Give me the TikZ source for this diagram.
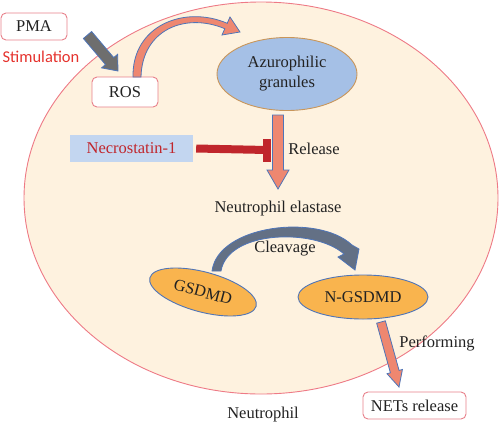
\documentclass[tikz,border=0pt]{standalone}
\usepackage{fontspec}
\setmainfont{Liberation Serif}
\newfontfamily\calfont{Carlito}
\usetikzlibrary{shapes.geometric,calc}
\definecolor{cellfill}{HTML}{FEF2DF}
\definecolor{cellline}{HTML}{EE7A86}
\definecolor{boxline}{HTML}{E8808A}
\definecolor{grayarr}{HTML}{6E6E6E}
\definecolor{blueline}{HTML}{4F75B8}
\definecolor{salmon}{HTML}{EE8770}
\definecolor{granfill}{HTML}{A5C0E6}
\definecolor{granline}{HTML}{C9965A}
\definecolor{orangefill}{HTML}{F9B44E}
\definecolor{cleavfill}{HTML}{637085}
\definecolor{necrofill}{HTML}{C3D6F0}
\definecolor{inhred}{HTML}{C0262C}
\definecolor{stimred}{HTML}{E5322D}
\definecolor{txt}{HTML}{222222}
\newcommand\blockarr[6]{%
  \coordinate (ba-h) at ($(#2)!#5!(#1)$);
  \filldraw[#6] ($(#1)!#3!90:(#2)$) -- ($(ba-h)!#3!-90:(#1)$) -- ($(ba-h)!#4!-90:(#1)$) -- (#2) -- ($(ba-h)!#4!90:(#1)$) -- ($(ba-h)!#3!90:(#1)$) -- ($(#1)!#3!-90:(#2)$) -- cycle;}
\begin{document}
\begin{tikzpicture}[x=1pt,y=-1pt,
  every node/.style={font=\fontsize{16.5}{19}\selectfont, text=txt},
  rbox/.style={draw=boxline, line width=0.9pt, fill=white, rounded corners=5pt, inner sep=0pt},
  orel/.style={ellipse, draw=blueline, line width=0.9pt, fill=orangefill, inner sep=0pt},
  salarr/.style={fill=salmon, draw=blueline, line width=0.8pt, line join=miter},
  inhline/.style={draw=inhred, line width=8pt}]
\useasboundingbox (0,0) rectangle (500,426);
% cell
\node[ellipse, draw=cellline, line width=0.9pt, fill=cellfill, minimum width=474pt, minimum height=392pt, inner sep=0pt] (cell) at (261,198) {};
% boxes
\node[rbox, minimum width=66pt, minimum height=27pt] (pma) at (34,26.5) {PMA};
\node[font=\calfont\fontsize{16.5}{19}\selectfont, text=stimred] (stim) at (41,57) {Stimulation};
\node[rbox, minimum width=66pt, minimum height=30pt] (ros) at (125,92) {ROS};
\node[ellipse, draw=granline, line width=0.9pt, fill=granfill, minimum width=140pt, minimum height=73pt, inner sep=0pt, align=center, font=\fontsize{16.5}{20}\selectfont] (gran) at (287,74) {Azurophilic\\granules};
\node[fill=necrofill, minimum width=123pt, minimum height=27pt, inner sep=0pt, text=inhred] (necro) at (131.5,148.5) {Necrostatin-1};
\node (release) at (314,149) {Release};
\node (ne) at (278,209) {Neutrophil elastase};
\node (cleav) at (285,249) {Cleavage};
\node[orel, rotate=-15, minimum width=110pt, minimum height=40pt] (gsdmd) at (203,292) {GSDMD};
\node[orel, minimum width=130pt, minimum height=44pt] (ngsdmd) at (363,297) {N-GSDMD};
\node (perf) at (437,343) {Performing};
\node[rbox, minimum width=103pt, minimum height=27pt] (nets) at (414.5,405.5) {NETs release};
\node (neut) at (263,415) {Neutrophil};
% gray PMA arrow
\coordinate (pmaS) at (87.5,35);
\coordinate (pmaT) at (118,71);
\blockarr{pmaS}{pmaT}{5.4pt}{10.5pt}{13pt}{fill=grayarr, draw=blueline, line width=0.8pt}
% ROS -> granules curved arrow
\filldraw[salarr] (133,77) .. controls (132,25) and (185,5) .. (227.2,23.3) -- (230,17) -- (240,32) -- (222,35) -- (224.8,28.7) .. controls (185,12) and (142,30) .. (141,77) -- cycle;
% release arrow
\coordinate (relS) at (278,115);
\coordinate (relT) at (278,189);
\blockarr{relS}{relT}{5.5pt}{11pt}{19pt}{salarr}
% inhibition
\coordinate (inh) at (267,150);
\draw[inhline] ([xshift=3pt]necro.east) -- (inh);
\draw[inhline] ([yshift=11pt]inh) -- ([yshift=-12pt]inh);
% cleavage arrow
\filldraw[fill=cleavfill, draw=blueline, line width=0.8pt, line join=miter] (212,271) .. controls (218,225) and (318,213) .. (352,245) -- (359,249) -- (355,270) -- (338,257) -- (344,254) .. controls (315,228) and (228,230) .. (221,271) -- cycle;
% performing arrow
\coordinate (perS) at (381,322);
\coordinate (perT) at (399,387);
\blockarr{perS}{perT}{4.5pt}{8pt}{16pt}{salarr}
\end{tikzpicture}
\end{document}
